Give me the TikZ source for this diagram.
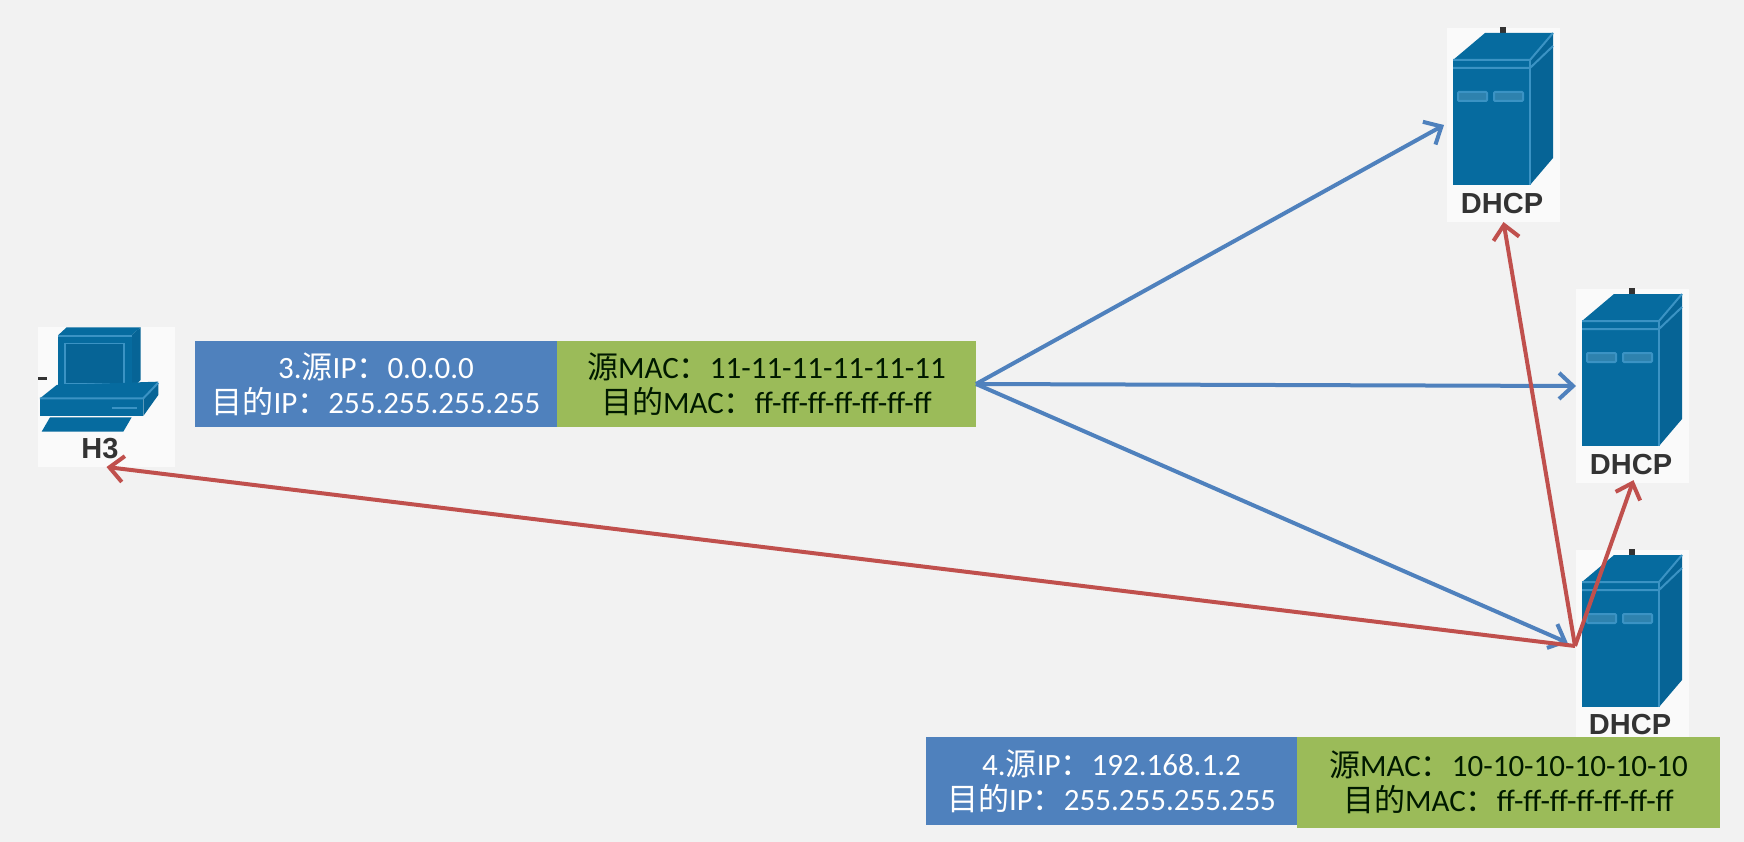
\documentclass[tikz,border=0pt]{standalone}
\usepackage{fontspec}
\usetikzlibrary{arrows.meta}
\setmainfont{Carlito}
\newfontfamily\cjk{Noto Sans CJK SC}
\newfontfamily\lab{Liberation Sans}
\definecolor{pagebg}{HTML}{F2F2F2}
\definecolor{halo}{HTML}{FAFAFA}
\definecolor{bluebox}{HTML}{4F81BD}
\definecolor{greenbox}{HTML}{9BBB59}
\definecolor{redline}{HTML}{C0504D}
\definecolor{blueline}{HTML}{4F81BD}
\definecolor{devfront}{HTML}{066B9F}
\definecolor{devside}{HTML}{066496}
\definecolor{devedge}{HTML}{3B93C4}
\definecolor{slotfill}{HTML}{2E82AE}
\definecolor{labtext}{HTML}{333333}
\tikzset{
  x=1pt,y=-1pt,
  halobox/.style={fill=halo,draw=none,minimum width=#1,inner sep=0pt,outer sep=0pt},
  blockblue/.style={fill=bluebox,draw=none,text=white,align=center,font=\fontsize{31}{35}\selectfont,inner sep=0pt,outer sep=0pt,minimum height=86pt,minimum width=362pt},
  blockgreen/.style={fill=greenbox,draw=none,text=black!90!green,align=center,font=\fontsize{31}{35}\selectfont,inner sep=0pt,outer sep=0pt,minimum height=86pt,minimum width=419pt},
  devlabel/.style={text=labtext,inner sep=0pt,font=\lab\bfseries\fontsize{29}{29}\selectfont},
  blueflow/.style={draw=blueline,line width=4pt,-{Straight Barb[length=14pt,width=26pt,line width=4pt]}},
  redflow/.style={draw=redline,line width=4pt,-{Straight Barb[length=14pt,width=26pt,line width=4pt]}},
  edgeline/.style={draw=devedge,line width=2pt},
}
\newcommand{\serverart}[2]{%
  \begin{scope}[shift={(#1,#2)}]
    \fill[black!80] (53,-1) rectangle (59,6);
    \fill[devfront] (6,32) -- (38,5) -- (106,5) -- (83,32) -- cycle;
    \fill[devside] (83,32) -- (106,5) -- (106,130) -- (83,157) -- cycle;
    \fill[devfront] (6,32) rectangle (83,157);
    \draw[edgeline] (6,32) -- (83,32) -- (106,5);
    \draw[edgeline] (6,40) -- (83,40) -- (106,18);
    \draw[edgeline] (83,32) -- (83,157);
    \draw[edgeline,fill=slotfill,rounded corners=1pt] (11,64) rectangle (40,73);
    \draw[edgeline,fill=slotfill,rounded corners=1pt] (47,64) rectangle (76,73);
  \end{scope}}
\begin{document}
\begin{tikzpicture}
\useasboundingbox (0,0) rectangle (1744,842);
\fill[pagebg] (0,0) rectangle (1744,842);

% devices
\node[halobox=137pt,minimum height=140pt] (h3) at (106.5,397) {};
\begin{scope}[shift={(20,310)},x=0.3333pt,y=-0.3333pt]
  \fill[black!80] (55,201) rectangle (82,209);
  \fill[devside] (335,75) -- (362,52) -- (362,210) -- (335,235) -- cycle;
  \fill[devfront] (115,75) -- (140,52) -- (362,52) -- (335,75) -- cycle;
  \fill[devfront] (115,75) rectangle (335,235);
  \draw[edgeline] (115,78) -- (335,78);
  \fill[devside] (135,100) rectangle (312,220);
  \draw[edgeline,line width=1.4pt] (135,100) rectangle (312,220);
  \fill[devfront] (60,265) -- (110,225) -- (415,215) -- (370,265) -- cycle;
  \fill[devside] (370,265) -- (415,220) -- (415,255) -- (370,318) -- cycle;
  \fill[devfront] (60,265) rectangle (370,318);
  \draw[edgeline] (60,265) -- (370,265) -- (415,218);
  \draw[edgeline] (275,294) -- (350,294);
  \fill[devfront] (90,322) -- (335,322) -- (310,365) -- (65,365) -- cycle;
\end{scope}
\node[devlabel] (h3lab) at (100,449) {H3};

\node[halobox=113pt,minimum height=194pt] (dhcpa) at (1503.5,125) {};
\serverart{1447}{28}
\node[devlabel] (dhcpalab) at (1502,204) {DHCP};

\node[halobox=113pt,minimum height=194pt] (dhcpb) at (1632.5,386) {};
\serverart{1576}{289}
\node[devlabel] (dhcpblab) at (1631,465) {DHCP};

\node[halobox=113pt,minimum height=194pt] (dhcpc) at (1632.5,647) {};
\serverart{1576}{550}
\node[devlabel] (dhcpclab) at (1630,725) {DHCP};

% header blocks
\node[blockblue] (ipa) at (376,384) {3.{\cjk 源}IP{\cjk ：}0.0.0.0\\{\cjk 目的}IP{\cjk ：}255.255.255.255};
\node[blockgreen,anchor=west] (maca) at (ipa.east) {{\cjk 源}MAC{\cjk ：}11-11-11-11-11-11\\{\cjk 目的}MAC{\cjk ：}ff-ff-ff-ff-ff-ff-ff};
\node[blockblue,minimum width=371pt,minimum height=88pt] (ipb) at (1111.5,781) {4.{\cjk 源}IP{\cjk ：}192.168.1.2\\{\cjk 目的}IP{\cjk ：}255.255.255.255};
\node[blockgreen,minimum width=423pt,minimum height=91pt,anchor=north west] (macb) at (ipb.north east) {{\cjk 源}MAC{\cjk ：}10-10-10-10-10-10\\{\cjk 目的}MAC{\cjk ：}ff-ff-ff-ff-ff-ff-ff};

% connectors
\coordinate (hub) at (1575,646);
\coordinate (dhcpatip) at (1444,125);
\draw[blueflow] (maca.east) -- (dhcpatip);
\draw[blueflow] (maca.east) -- (dhcpb.west);
\draw[blueflow,shorten >=8pt] (maca.east) -- (hub);
\draw[redflow] (hub) -- (h3.south);
\draw[redflow] (hub) -- (dhcpa.south);
\draw[redflow,shorten >=-3pt] (hub) -- (dhcpb.south);
\end{tikzpicture}
\end{document}
